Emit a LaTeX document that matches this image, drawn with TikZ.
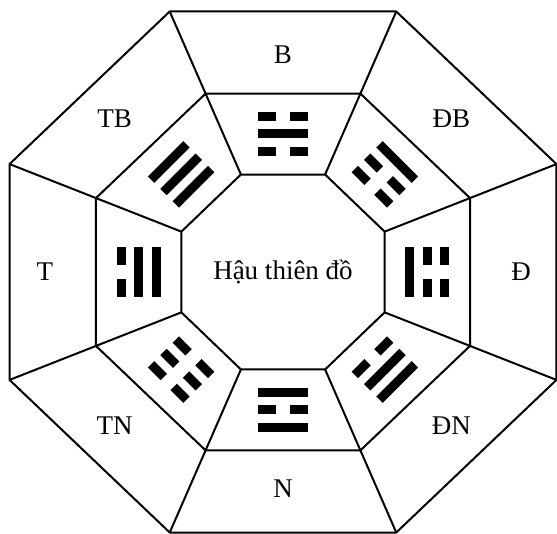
\documentclass[tikz,border=0pt]{standalone}
\usepackage{fontspec}
\setmainfont{Liberation Serif}
\usetikzlibrary{calc}
\tikzset{
  ring/.style={line width=1pt,line join=round},
  dir_lbl/.style={font=\fontsize{13.5}{16}\selectfont,inner sep=0pt},
  title_lbl/.style={font=\fontsize{13.5}{16}\selectfont,inner sep=0pt},
}
% one line of a trigram: #1 = offset, #2 = 1 solid / 0 broken
\newcommand{\hao}[2]{%
  \ifnum#2=1
    \fill (-25,#1-4.5) rectangle (25,#1+4.5);
  \else
    \fill (-25,#1-4.5) rectangle (-7,#1+4.5);
    \fill (7,#1-4.5) rectangle (25,#1+4.5);
  \fi}

\begin{document}
\begin{tikzpicture}[x=0.5pt,y=0.5pt]
  \useasboundingbox (-283,-262) rectangle (274,272);
  % corners of the three octagons
  \foreach \k in {0,...,7}{
    \coordinate (o\k) at (22.5+45*\k:296 and 282);
    \coordinate (m\k) at (22.5+45*\k:202.5 and 193);
    \coordinate (i\k) at (22.5+45*\k:110 and 105.5);
  }
  \draw[ring] (o0) -- (o1) -- (o2) -- (o3) -- (o4) -- (o5) -- (o6) -- (o7) -- cycle;
  \draw[ring] (m0) -- (m1) -- (m2) -- (m3) -- (m4) -- (m5) -- (m6) -- (m7) -- cycle;
  \draw[ring] (i0) -- (i1) -- (i2) -- (i3) -- (i4) -- (i5) -- (i6) -- (i7) -- cycle;
  \foreach \k in {0,...,7}
    \draw[ring] (o\k) -- (i\k);

  \node (title) [title_lbl] at (0,0) {Hậu thiên đồ};

  % directions
  \foreach \a/\n/\t in {90/b/B,135/tb/TB,180/t/T,225/tn/TN,
                        270/n/N,315/dn/ĐN,0/d/Đ,45/db/ĐB}
    \node (lbl\n) [dir_lbl] at (\a:238 and 217) {\t};

  % trigrams, lines listed from inside out
  \foreach \a/\p/\q/\r in {90/0/1/0,135/1/1/1,180/1/1/0,225/0/0/0,
                           270/1/0/1,315/0/1/1,0/1/0/0,45/0/0/1}{
    \begin{scope}[shift={(\a:144 and 138)},rotate=\a-90]
      \hao{-17.5}{\p}
      \hao{0}{\q}
      \hao{17.5}{\r}
    \end{scope}
  }
\end{tikzpicture}
\end{document}
